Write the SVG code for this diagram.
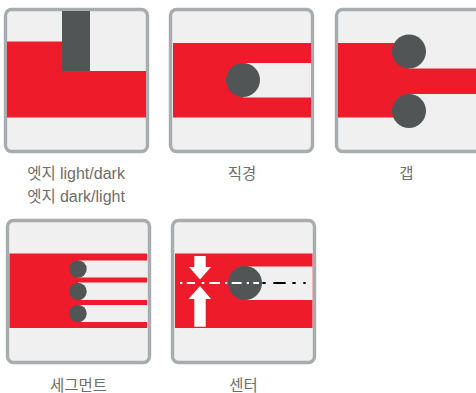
<svg xmlns="http://www.w3.org/2000/svg" width="476" height="393" viewBox="0 0 476 393">
<style>
.card{fill:#f0f0f1;stroke:#a7acaf;stroke-width:3.4}
.red{fill:#ee1c2b}
.bg{fill:#f0f0f1}
.dk{fill:#525556}
.w{fill:#fff}
text{font-family:"Liberation Sans","Noto Sans CJK KR",sans-serif;font-size:15.500px;fill:#6e6e6e;text-anchor:middle}
.lat{font-size:16px}
.dl{fill:none;stroke-width:2}
</style>
<rect width="476" height="393" fill="#fff"/>
<g id="edge">
<rect class="card" x="5.500" y="9.500" width="142" height="142" rx="6"/>
<path class="red" d="M7 41.500H62V71H146V117.500H7Z"/>
<rect class="dk" x="62" y="11" width="28" height="60"/>
<text x="76" y="179">엣지 <tspan class="lat">light/dark</tspan></text>
<text x="76" y="201.500">엣지 <tspan class="lat">dark/light</tspan></text>
</g>
<g id="diameter">
<rect class="card" x="170.500" y="9.500" width="142" height="142" rx="6"/>
<rect class="red" x="173" y="43" width="138" height="74.500"/>
<rect class="bg" x="243" y="63" width="68" height="34.500"/>
<circle class="dk" cx="243" cy="80" r="17"/>
<text x="242" y="178.500">직경</text>
</g>
<g id="gap">
<path class="card" d="M476 9.500H342.500a6 6 0 0 0-6 6V145.500a6 6 0 0 0 6 6H476"/>
<path class="red" d="M338 43H408.500V68.500H476V94H408.500V117.500H338Z"/>
<circle class="dk" cx="409" cy="51.500" r="17"/>
<circle class="dk" cx="409" cy="111" r="17"/>
<text x="406.500" y="178.500">갭</text>
</g>
<g id="segment">
<rect class="card" x="7.500" y="220.500" width="142" height="142" rx="6"/>
<rect class="red" x="9.500" y="253.500" width="137.500" height="74.500"/>
<rect class="bg" x="78" y="260.500" width="69" height="17"/>
<rect class="bg" x="78" y="282.500" width="69" height="17.500"/>
<rect class="bg" x="78" y="305" width="69" height="17"/>
<circle class="dk" cx="78" cy="269" r="8.700"/>
<circle class="dk" cx="78" cy="291.500" r="8.700"/>
<circle class="dk" cx="78" cy="313.500" r="8.700"/>
<text x="78.500" y="391">세그먼트</text>
</g>
<g id="center">
<rect class="card" x="172.500" y="220.500" width="142" height="142" rx="6"/>
<rect class="red" x="175" y="253.500" width="137.500" height="74.500"/>
<rect class="bg" x="245" y="266.500" width="67.500" height="33.500"/>
<circle class="dk" cx="245" cy="283" r="17"/>
<polygon class="w" points="194.300,256 205.700,256 205.700,267 211,267 200,279.500 189,267 194.300,267"/>
<polygon class="w" points="200,286 211,299 205.700,299 205.700,326.700 194.300,326.700 194.300,299 188.500,299"/>
<path class="dl" stroke="#fff" d="M180 283h2.300M186.700 283h8.300M201.700 283h2.600M209.300 283h10.700M225 283h2.300M231.700 283h10M246.700 283h2.300M253.300 283h5.700"/>
<path class="dl" stroke="#000" d="M262.300 283h3.400M273.300 283h12.400M292.300 283h3.400M303.300 283h2.400"/>
<text x="243.500" y="391">센터</text>
</g>
</svg>
